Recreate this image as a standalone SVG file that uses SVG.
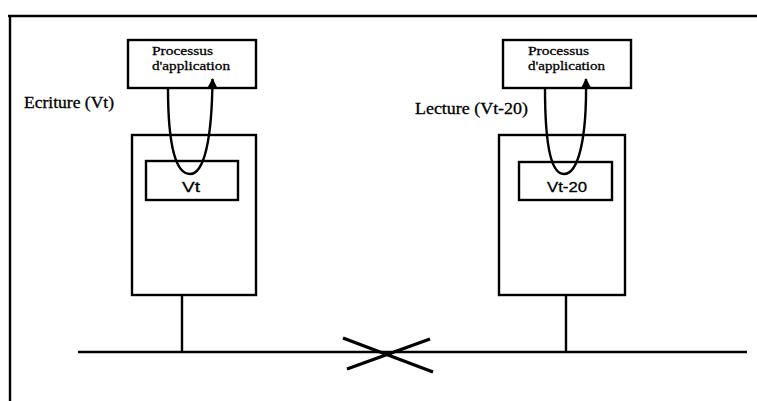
<svg xmlns="http://www.w3.org/2000/svg" width="757" height="401" viewBox="0 0 757 401">
<style>
.box{fill:none;stroke:#000;stroke-width:2.4}
.ln{fill:none;stroke:#000;stroke-width:2.4}
.t{font-family:"Liberation Serif","Times New Roman",serif;fill:#000;stroke:#000;stroke-width:0.3}
.p{font-size:13.5px}
.l{font-size:16px}
.v{font-family:"Liberation Sans",Arial,sans-serif;font-size:15px}
</style>
<defs>
<marker id="ah" viewBox="0 0 10 10" refX="9" refY="5" markerWidth="11" markerHeight="10" markerUnits="userSpaceOnUse" orient="auto">
<path d="M0,0 L10,5 L0,10 z" fill="#000"/>
</marker>
</defs>
<rect width="757" height="401" fill="#fff"/>
<g id="frame">
<path class="ln" d="M8,16 H757 M10,16 V401"/>
</g>
<g id="proc-left">
<rect class="box" x="128" y="40" width="128" height="48"/>
<text class="t p" x="152" y="55" textLength="61" lengthAdjust="spacingAndGlyphs">Processus</text>
<text class="t p" x="152" y="70" textLength="78" lengthAdjust="spacingAndGlyphs">d'application</text>
</g>
<g id="proc-right">
<rect class="box" x="503" y="40" width="128" height="48"/>
<text class="t p" x="528" y="55" textLength="61" lengthAdjust="spacingAndGlyphs">Processus</text>
<text class="t p" x="528" y="70" textLength="77" lengthAdjust="spacingAndGlyphs">d'application</text>
</g>
<g id="station-left">
<rect class="box" x="132" y="135" width="124" height="160"/>
<rect class="box" x="146" y="161" width="92" height="39"/>
<text class="t v" x="182" y="192" textLength="18" lengthAdjust="spacingAndGlyphs">Vt</text>
</g>
<g id="station-right">
<rect class="box" x="499" y="135" width="126" height="160"/>
<rect class="box" x="519" y="162" width="93" height="38"/>
<text class="t v" x="547" y="192" textLength="40" lengthAdjust="spacingAndGlyphs">Vt-20</text>
</g>
<g id="labels">
<text class="t l" x="24" y="108" textLength="90" lengthAdjust="spacingAndGlyphs">Ecriture (Vt)</text>
<text class="t l" x="415" y="114" textLength="113" lengthAdjust="spacingAndGlyphs">Lecture (Vt-20)</text>
</g>
<g id="connectors">
<path class="ln" d="M168,88 C168,150 177,174 190,174 C204,174 212,140 212.5,79" marker-end="url(#ah)"/>
<path class="ln" d="M545,88 C545,150 552,174 564,174 C578,174 587,140 586,79" marker-end="url(#ah)"/>
<path class="ln" d="M182,295 V352 M566,295 V352"/>
<path class="ln" d="M78,352 H747"/>
<path fill="none" stroke="#000" stroke-width="3.4" d="M343,338 L433,372 M347,369 L430,339"/>
</g>
</svg>
